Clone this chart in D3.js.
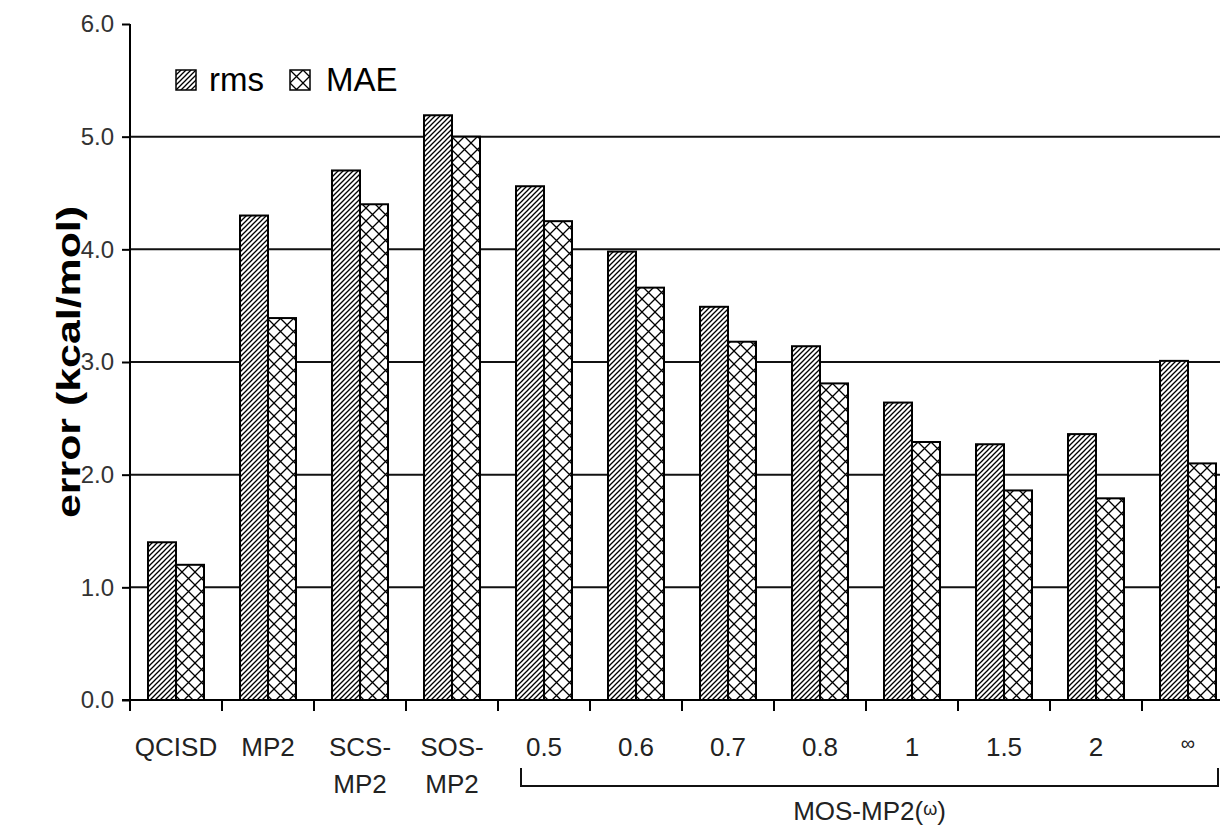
<!DOCTYPE html>
<html>
<head>
<meta charset="utf-8">
<script src="https://cdn.jsdelivr.net/npm/d3@7"></script>
<style>
  body { margin: 0; background: #fff; }
  svg { display: block; font-family: "Liberation Sans", Arial, sans-serif; }
</style>
</head>
<body>
<svg width="1220" height="827"></svg>
<script>
// donnees
var categories = ["QCISD", "MP2", "SCS-MP2", "SOS-MP2", "0.5", "0.6", "0.7", "0.8", "1", "1.5", "2", "\u221e"];
var catLabels = [["QCISD"], ["MP2"], ["SCS-", "MP2"], ["SOS-", "MP2"], ["0.5"], ["0.6"], ["0.7"], ["0.8"], ["1"], ["1.5"], ["2"], ["\u221e"]];
var seriesNames = ["rms", "MAE"];
var rmsValues = [1.40, 4.30, 4.70, 5.19, 4.56, 3.98, 3.49, 3.14, 2.64, 2.27, 2.36, 3.01];
var maeValues = [1.20, 3.39, 4.40, 5.00, 4.25, 3.66, 3.18, 2.81, 2.29, 1.86, 1.79, 2.10];
var yTicks = [0, 1, 2, 3, 4, 5, 6];
var groupCategories = ["0.5", "\u221e"]; // debut et fin du groupe MOS-MP2

var svg = d3.select("svg");

var marginLeft = 130, marginTop = 24, axisBottom = 700, bandW = 92, rightEdge = 1220;

var x = d3.scaleBand()
    .domain(categories)
    .range([marginLeft, marginLeft + categories.length * bandW])
    .padding(0);

var x1 = d3.scaleBand()
    .domain(seriesNames)
    .range([18, 74]);

var y = d3.scaleLinear()
    .domain([0, 6])
    .range([axisBottom, marginTop]);

// motifs de remplissage
var defs = svg.append("defs");
var p1 = defs.append("pattern")
    .attr("id", "hatch")
    .attr("patternUnits", "userSpaceOnUse")
    .attr("width", 5)
    .attr("height", 5);
p1.append("rect").attr("width", 5).attr("height", 5).attr("fill", "#fff");
p1.append("path")
    .attr("d", "M-1,1 L1,-1 M0,5 L5,0 M4,6 L6,4")
    .attr("stroke", "#000")
    .attr("stroke-width", 1.3);

var p2 = defs.append("pattern")
    .attr("id", "cross")
    .attr("patternUnits", "userSpaceOnUse")
    .attr("width", 13)
    .attr("height", 13);
p2.append("rect").attr("width", 13).attr("height", 13).attr("fill", "#fff");
p2.append("path")
    .attr("d", "M0,0 L13,13 M13,0 L0,13")
    .attr("stroke", "#000")
    .attr("stroke-width", 1.3);

// lignes de grille
svg.append("g")
    .selectAll("line")
    .data(yTicks.filter(function(d) { return d > 0 && d < 6; }))
    .enter().append("line")
    .attr("x1", marginLeft)
    .attr("x2", rightEdge)
    .attr("y1", function(d) { return y(d); })
    .attr("y2", function(d) { return y(d); })
    .attr("stroke", "#111")
    .attr("stroke-width", 2);

// barres
var rows = categories.map(function(c, i) {
    return { cat: c, values: [rmsValues[i], maeValues[i]] };
});

var groups = svg.append("g")
    .selectAll("g")
    .data(rows)
    .enter().append("g")
    .attr("transform", function(d) { return "translate(" + x(d.cat) + ",0)"; });

groups.selectAll("rect")
    .data(function(d) {
        return d.values.map(function(v, j) { return { key: seriesNames[j], value: v }; });
    })
    .enter().append("rect")
    .attr("x", function(d) { return x1(d.key); })
    .attr("width", x1.bandwidth())
    .attr("y", function(d) { return y(d.value); })
    .attr("height", function(d) { return y(0) - y(d.value); })
    .attr("fill", function(d) { return d.key === "rms" ? "url(#hatch)" : "url(#cross)"; })
    .attr("stroke", "#000")
    .attr("stroke-width", 2);

// axe Y
var yAxis = svg.append("g")
    .attr("transform", "translate(" + marginLeft + ",0)")
    .call(d3.axisLeft(y).tickValues(yTicks).tickFormat(d3.format(".1f")).tickSize(8).tickPadding(8));
yAxis.select(".domain").remove();
yAxis.selectAll(".tick line").attr("stroke", "#000").attr("stroke-width", 2);
yAxis.selectAll("text")
    .attr("font-size", 24)
    .attr("fill", "#333")
    .attr("font-family", "Liberation Sans, Arial, sans-serif");

svg.append("line")
    .attr("x1", marginLeft).attr("x2", marginLeft)
    .attr("y1", y(6)).attr("y2", axisBottom + 11)
    .attr("stroke", "#000").attr("stroke-width", 2);

// axe X
svg.append("line")
    .attr("x1", marginLeft - 8).attr("x2", rightEdge)
    .attr("y1", axisBottom).attr("y2", axisBottom)
    .attr("stroke", "#000").attr("stroke-width", 2);

svg.append("g")
    .selectAll("line")
    .data(categories.slice(1))
    .enter().append("line")
    .attr("x1", function(d) { return x(d); })
    .attr("x2", function(d) { return x(d); })
    .attr("y1", axisBottom)
    .attr("y2", axisBottom + 11)
    .attr("stroke", "#000")
    .attr("stroke-width", 2);

var labels = svg.append("g")
    .selectAll("text")
    .data(categories)
    .enter().append("text")
    .attr("x", function(d) { return x(d) + x.bandwidth() / 2; })
    .attr("y", 756)
    .attr("text-anchor", "middle")
    .attr("font-size", function(d) { return d === "\u221e" ? 20 : 26; })
    .attr("fill", "#222");

labels.each(function(d, i) {
    var t = d3.select(this);
    catLabels[i].forEach(function(line, k) {
        t.append("tspan")
            .attr("x", x(d) + x.bandwidth() / 2)
            .attr("dy", k === 0 ? (d === "\u221e" ? -6 : 0) : 37)
            .text(line);
    });
});

// accolade du groupe MOS-MP2
var gx1 = x(groupCategories[0]) + 23;
var gx2 = rightEdge - 2;
svg.append("path")
    .attr("d", "M" + gx1 + ",768 L" + gx1 + ",786 L" + gx2 + ",786 L" + gx2 + ",768")
    .attr("fill", "none")
    .attr("stroke", "#111")
    .attr("stroke-width", 2);

var gl = svg.append("text")
    .attr("x", (gx1 + gx2) / 2)
    .attr("y", 820)
    .attr("text-anchor", "middle")
    .attr("font-size", 26)
    .attr("fill", "#222");
gl.append("tspan").text("MOS-MP2(");
gl.append("tspan").attr("font-size", 18).attr("dy", -5).text("\u03c9");
gl.append("tspan").attr("dy", 5).text(")");

// titre de l'axe Y
svg.append("text")
    .attr("transform", "translate(80,362) rotate(-90)")
    .attr("text-anchor", "middle")
    .attr("font-size", 34)
    .attr("font-weight", "bold")
    .attr("fill", "#000")
    .attr("textLength", 312)
    .attr("lengthAdjust", "spacingAndGlyphs")
    .text("error (kcal/mol)");

// legende
var legend = svg.append("g")
    .selectAll("g")
    .data(seriesNames)
    .enter().append("g")
    .attr("transform", function(d, i) { return "translate(" + (i === 0 ? 176 : 290) + ",70)"; });

legend.append("rect")
    .attr("width", 20)
    .attr("height", 20)
    .attr("fill", function(d) { return d === "rms" ? "url(#hatch)" : "url(#cross)"; })
    .attr("stroke", "#000")
    .attr("stroke-width", 1.5);

legend.append("text")
    .attr("x", function(d) { return d === "rms" ? 33 : 36; })
    .attr("y", 21)
    .attr("font-size", 33)
    .attr("fill", "#000")
    .text(function(d) { return d; });
</script>
</body>
</html>
